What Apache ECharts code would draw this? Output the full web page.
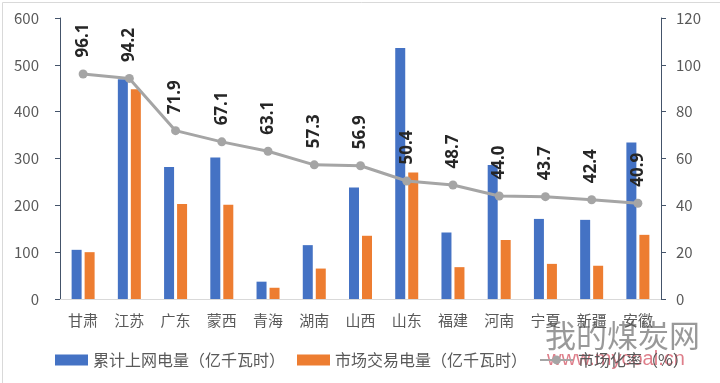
<!DOCTYPE html>
<html><head><meta charset="utf-8">
<script src="https://cdn.jsdelivr.net/npm/echarts@6/dist/echarts.min.js"></script>
<style>html,body{margin:0;padding:0;background:#fff}#c{width:720px;height:383px}</style>
</head><body><div id="c"></div>
<script>
const categories = ['甘肃','江苏','广东','蒙西','青海','湖南','山西','山东','福建','河南','宁夏','新疆','安徽'];
const gridPower = [105, 469, 282, 302, 37, 115, 238, 536, 142, 286, 171, 169, 334];
const tradePower = [100, 448, 203, 201, 24, 65, 135, 270, 68, 126, 75, 71, 137];
const marketRate = [96.1, 94.2, 71.9, 67.1, 63.1, 57.3, 56.9, 50.4, 48.7, 44.0, 43.7, 42.4, 40.9];
const leftTicks = [0, 600, 100];
const rightTicks = [0, 120, 20];

const font = '"Noto Sans CJK SC", "Microsoft YaHei", sans-serif';
const chart = echarts.init(document.getElementById('c'));
chart.setOption({
  animation: false,
  textStyle: {fontFamily: font},
  grid: {left: 60, right: 59, top: 18, bottom: 84},
  legend: {
    bottom: 10, left: 50, itemWidth: 33, itemHeight: 11, itemGap: 12,
    textStyle: {color: '#595959', fontSize: 16, fontFamily: font},
    data: [
      {name: '累计上网电量（亿千瓦时）', icon: 'rect'},
      {name: '市场交易电量（亿千瓦时）', icon: 'rect'},
      {name: '市场化率（%）'}
    ]
  },
  xAxis: {
    type: 'category', data: categories,
    axisLine: {lineStyle: {color: '#D9D9D9'}},
    axisTick: {show: false},
    axisLabel: {color: '#595959', fontSize: 15, margin: 14}
  },
  yAxis: [
    {type: 'value', min: leftTicks[0], max: leftTicks[1], interval: leftTicks[2],
     axisLine: {show: true, lineStyle: {color: '#44546A'}},
     axisTick: {show: true, length: 5, lineStyle: {color: '#44546A'}},
     splitLine: {show: false},
     axisLabel: {color: '#595959', fontSize: 15, margin: 21}},
    {type: 'value', min: rightTicks[0], max: rightTicks[1], interval: rightTicks[2],
     axisLine: {show: true, lineStyle: {color: '#44546A'}},
     axisTick: {show: true, length: 5, lineStyle: {color: '#44546A'}},
     splitLine: {show: false},
     axisLabel: {color: '#595959', fontSize: 15, margin: 15}}
  ],
  series: [
    {name: '累计上网电量（亿千瓦时）', type: 'bar', data: gridPower, barWidth: 10, barGap: '30%',
     itemStyle: {color: '#4472C4'}},
    {name: '市场交易电量（亿千瓦时）', type: 'bar', data: tradePower, barWidth: 10,
     itemStyle: {color: '#ED7D31'}},
    {name: '市场化率（%）', type: 'line', yAxisIndex: 1, data: marketRate,
     symbol: 'circle', symbolSize: 9,
     lineStyle: {color: '#A5A5A5', width: 3}, itemStyle: {color: '#A5A5A5'},
     label: {show: true, position: 'top', distance: 12, rotate: 90, align: 'left', verticalAlign: 'middle',
       color: '#262626', fontWeight: 'bold', fontSize: 17, fontFamily: '"Noto Sans", sans-serif',
       formatter: p => p.value.toFixed(1)}}
  ],
  graphic: [
    {type: 'rect', left: 0, top: 0, shape: {width: 719, height: 382}, style: {fill: 'none', stroke: '#D9D9D9', lineWidth: 1}, silent: true},
    {type: 'text', left: 545, top: 320, style: {text: '我的煤炭网', fill: 'rgba(110,110,110,0.7)', fontSize: 31, fontFamily: font}, silent: true},
    {type: 'text', left: 547, top: 349, style: {text: 'www.mycoal.cn', fill: 'rgba(200,40,60,0.6)', fontSize: 20, fontFamily: 'Liberation Sans, sans-serif'}, silent: true}
  ]
});
</script></body></html>
